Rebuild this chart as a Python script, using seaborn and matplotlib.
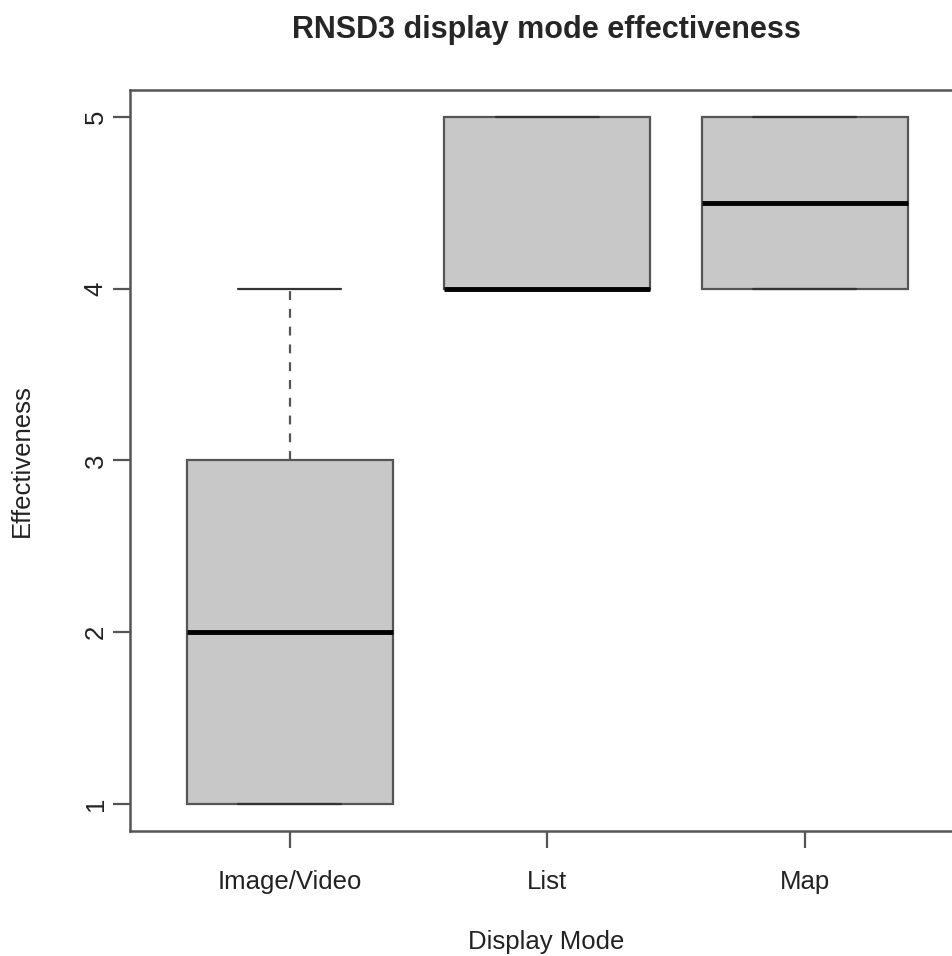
import matplotlib
matplotlib.use("Agg")
import matplotlib.pyplot as plt
import seaborn as sns
import pandas as pd

# Data (raw responses chosen to reproduce the box statistics seen in the chart)
image_video = [1, 1, 2, 3, 4]
list_mode = [4, 4, 4, 5, 5]
map_mode = [4, 4, 5, 5]
categories = ["Image/Video", "List", "Map"]
y_ticks = [1, 2, 3, 4, 5]

df = pd.DataFrame({
    "Display Mode": [categories[0]] * len(image_video)
                    + [categories[1]] * len(list_mode)
                    + [categories[2]] * len(map_mode),
    "Effectiveness": image_video + list_mode + map_mode,
})

sns.set_style("white")
plt.rcParams["font.family"] = ["Liberation Sans", "DejaVu Sans"]

W, H = 953, 956
fig = plt.figure(figsize=(W / 100, H / 100), dpi=100)
ax = fig.add_axes([130 / W, 1 - 831 / H, (962 - 130) / W, (831 - 90) / H])

edge = "#555555"
sns.boxplot(
    data=df, x="Display Mode", y="Effectiveness", order=categories,
    color="#C8C8C8", width=0.8, linewidth=1.6, fliersize=0,
    boxprops=dict(facecolor="#C8C8C8", edgecolor=edge, linewidth=1.6),
    whiskerprops=dict(color=edge, linestyle=(0, (4, 4)), linewidth=1.6),
    capprops=dict(color="#333333", linewidth=1.6),
    medianprops=dict(color="black", linewidth=3.5),
    saturation=1, ax=ax,
)

FS = 18.5
ax.set_xlim(-0.621, 2.61)
ax.set_ylim(0.843, 5.157)
ax.set_yticks(y_ticks)
ax.set_yticklabels([str(v) for v in y_ticks], rotation=90, va="center", fontsize=FS)
ax.set_xticks(range(len(categories)))
ax.set_xticklabels(categories, fontsize=FS)
ax.tick_params(axis="both", direction="out", length=12, width=1.6, color=edge,
               left=True, bottom=True, labelcolor="#222222")
ax.tick_params(axis="y", pad=4)
ax.tick_params(axis="x", pad=16)
for s in ax.spines.values():
    s.set_visible(True)
    s.set_color(edge)
    s.set_linewidth(1.8)

ax.set_xlabel("Display Mode", fontsize=FS, color="#222222")
ax.set_ylabel("Effectiveness", fontsize=FS, color="#222222")
ax.xaxis.set_label_coords(0.5, -(942 - 831) / (831 - 90), transform=ax.transAxes)
ax.xaxis.label.set_va("center")
ax.yaxis.set_label_coords(-(130 - 22) / (962 - 130), 0.5, transform=ax.transAxes)
ax.yaxis.label.set_va("center")
fig.text(546 / W, 1 - 30 / H, "RNSD3 display mode effectiveness",
         ha="center", va="center", fontsize=22, fontweight="bold")

fig.savefig("out.png", dpi=100)
